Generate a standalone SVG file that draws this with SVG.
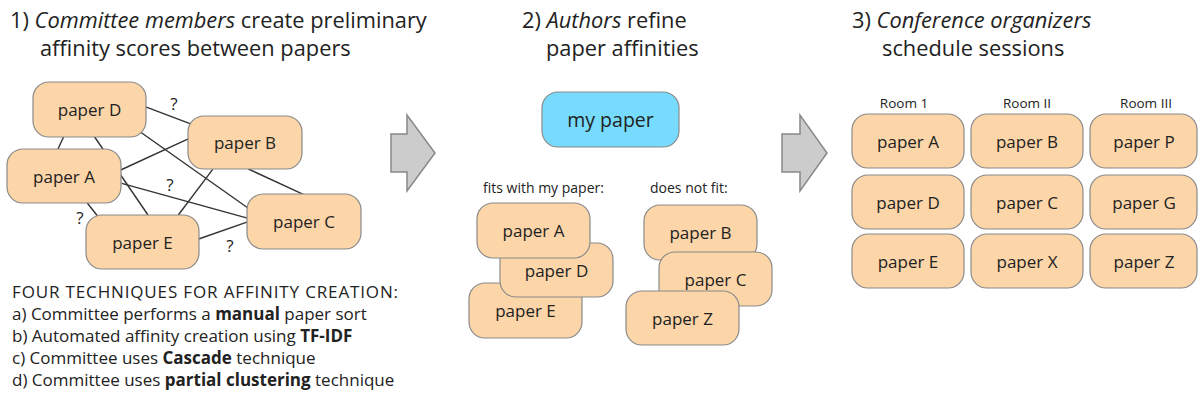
<svg xmlns="http://www.w3.org/2000/svg" width="1199" height="403" viewBox="0 0 1199 403">
<style>
text{font-family:"Open Sans","Liberation Sans",sans-serif;fill:#222}
.title{font-size:21.8px}
.list{font-size:17px}
.small{font-size:14px}
.room{font-size:13.5px;text-anchor:middle}
.q{font-size:17px;text-anchor:middle}
.node rect{fill:#fcd5a8;stroke:#8a8a8a;stroke-width:1.2}
.node text{font-size:17px;text-anchor:middle;dominant-baseline:central}
.blue rect{fill:#76dbfc}
.blue text{font-size:19.5px}
.conn line{stroke:#333;stroke-width:1.4}
.arrow{fill:#cccccc;stroke:#888;stroke-width:1.5}
</style>
<rect width="1199" height="403" fill="#fff"/>
<!-- titles -->
<text class="title" x="10" y="28">1) <tspan font-style="italic">Committee members</tspan> create preliminary</text>
<text class="title" x="40" y="56">affinity scores between papers</text>
<text class="title" x="522" y="28">2) <tspan font-style="italic">Authors</tspan> refine</text>
<text class="title" x="546" y="56">paper affinities</text>
<text class="title" x="852" y="28">3) <tspan font-style="italic">Conference organizers</tspan></text>
<text class="title" x="882" y="56">schedule sessions</text>
<!-- connectors -->
<g id="connectors" class="conn">
<line x1="58" y1="149" x2="64" y2="136"/>
<line x1="94" y1="136" x2="148" y2="215"/>
<line x1="145" y1="106.7" x2="192" y2="124.3"/>
<line x1="140" y1="131.7" x2="248.3" y2="208.3"/>
<line x1="120.7" y1="170" x2="189.3" y2="138.3"/>
<line x1="121.7" y1="183.3" x2="248.3" y2="218.3"/>
<line x1="212.7" y1="169.3" x2="178.3" y2="215"/>
<line x1="248.3" y1="169" x2="303.3" y2="194.3"/>
<line x1="87.3" y1="203" x2="97.3" y2="215.7"/>
<line x1="198.7" y1="239" x2="248.3" y2="221.7"/>
<text class="q" x="174" y="110">?</text>
<text class="q" x="170" y="191">?</text>
<text class="q" x="80" y="224">?</text>
<text class="q" x="230" y="252">?</text>
</g>
<!-- section 1 nodes -->
<g id="s1-paperD" class="node"><rect x="33" y="82" width="113" height="55" rx="16"/><text x="89.5" y="109.5">paper D</text></g>
<g id="s1-paperB" class="node"><rect x="188" y="116" width="114" height="53" rx="16"/><text x="245" y="142.5">paper B</text></g>
<g id="s1-paperA" class="node"><rect x="7" y="149" width="114" height="54" rx="16"/><text x="64" y="176">paper A</text></g>
<g id="s1-paperC" class="node"><rect x="247" y="194" width="114" height="55" rx="16"/><text x="304" y="221.5">paper C</text></g>
<g id="s1-paperE" class="node"><rect x="86" y="215" width="113" height="54" rx="16"/><text x="142.5" y="242">paper E</text></g>
<!-- list -->
<g id="techniques" class="list">
<text x="12" y="298" textLength="386" lengthAdjust="spacing">FOUR TECHNIQUES FOR AFFINITY CREATION:</text>
<text x="12" y="320">a) Committee performs a <tspan font-weight="bold">manual</tspan> paper sort</text>
<text x="12" y="342">b) Automated affinity creation using <tspan font-weight="bold">TF-IDF</tspan></text>
<text x="12" y="364">c) Committee uses <tspan font-weight="bold">Cascade</tspan> technique</text>
<text x="12" y="386">d) Committee uses <tspan font-weight="bold">partial clustering</tspan> technique</text>
</g>
<!-- arrows -->
<polygon id="arrow1" class="arrow" points="391,134 407,134 407,115 435,153 407,191 407,172 391,172"/>
<polygon id="arrow2" class="arrow" points="782,134 800,134 800,115 827,153 800,191 800,172 782,172"/>
<!-- section 2 -->
<g id="s2-mypaper" class="node blue"><rect x="542" y="92" width="137" height="55" rx="16"/><text x="610.5" y="119.5">my paper</text></g>
<text class="small" x="483" y="193">fits with my paper:</text>
<text class="small" x="650" y="193">does not fit:</text>
<g id="s2-paperE" class="node"><rect x="469" y="283" width="113" height="55" rx="16"/><text x="525.5" y="310.5">paper E</text></g>
<g id="s2-paperD" class="node"><rect x="500" y="243" width="113" height="54" rx="16"/><text x="556.5" y="270">paper D</text></g>
<g id="s2-paperA" class="node"><rect x="477" y="203" width="113" height="55" rx="16"/><text x="533.5" y="230.5">paper A</text></g>
<g id="s2-paperB" class="node"><rect x="644" y="205" width="113" height="55" rx="16"/><text x="700.5" y="232.5">paper B</text></g>
<g id="s2-paperC" class="node"><rect x="659" y="252" width="113" height="54" rx="16"/><text x="715.5" y="279">paper C</text></g>
<g id="s2-paperZ" class="node"><rect x="626" y="291" width="113" height="54" rx="16"/><text x="682.5" y="318">paper Z</text></g>
<!-- section 3 -->
<text class="room" x="904" y="108">Room 1</text>
<text class="room" x="1027" y="108">Room II</text>
<text class="room" x="1146" y="108">Room III</text>
<g id="s3-paperA" class="node"><rect x="852" y="114" width="112" height="54" rx="16"/><text x="908" y="141">paper A</text></g>
<g id="s3-paperB" class="node"><rect x="971" y="114" width="112" height="54" rx="16"/><text x="1027" y="141">paper B</text></g>
<g id="s3-paperP" class="node"><rect x="1090" y="114" width="107" height="54" rx="16"/><text x="1144" y="141">paper P</text></g>
<g id="s3-paperD" class="node"><rect x="852" y="175" width="112" height="54" rx="16"/><text x="908" y="202">paper D</text></g>
<g id="s3-paperC" class="node"><rect x="971" y="175" width="112" height="54" rx="16"/><text x="1027" y="202">paper C</text></g>
<g id="s3-paperG" class="node"><rect x="1090" y="175" width="107" height="54" rx="16"/><text x="1144" y="202">paper G</text></g>
<g id="s3-paperE" class="node"><rect x="852" y="234" width="112" height="54" rx="16"/><text x="908" y="261">paper E</text></g>
<g id="s3-paperX" class="node"><rect x="971" y="234" width="112" height="54" rx="16"/><text x="1027" y="261">paper X</text></g>
<g id="s3-paperZ" class="node"><rect x="1090" y="234" width="107" height="54" rx="16"/><text x="1144" y="261">paper Z</text></g>
</svg>
